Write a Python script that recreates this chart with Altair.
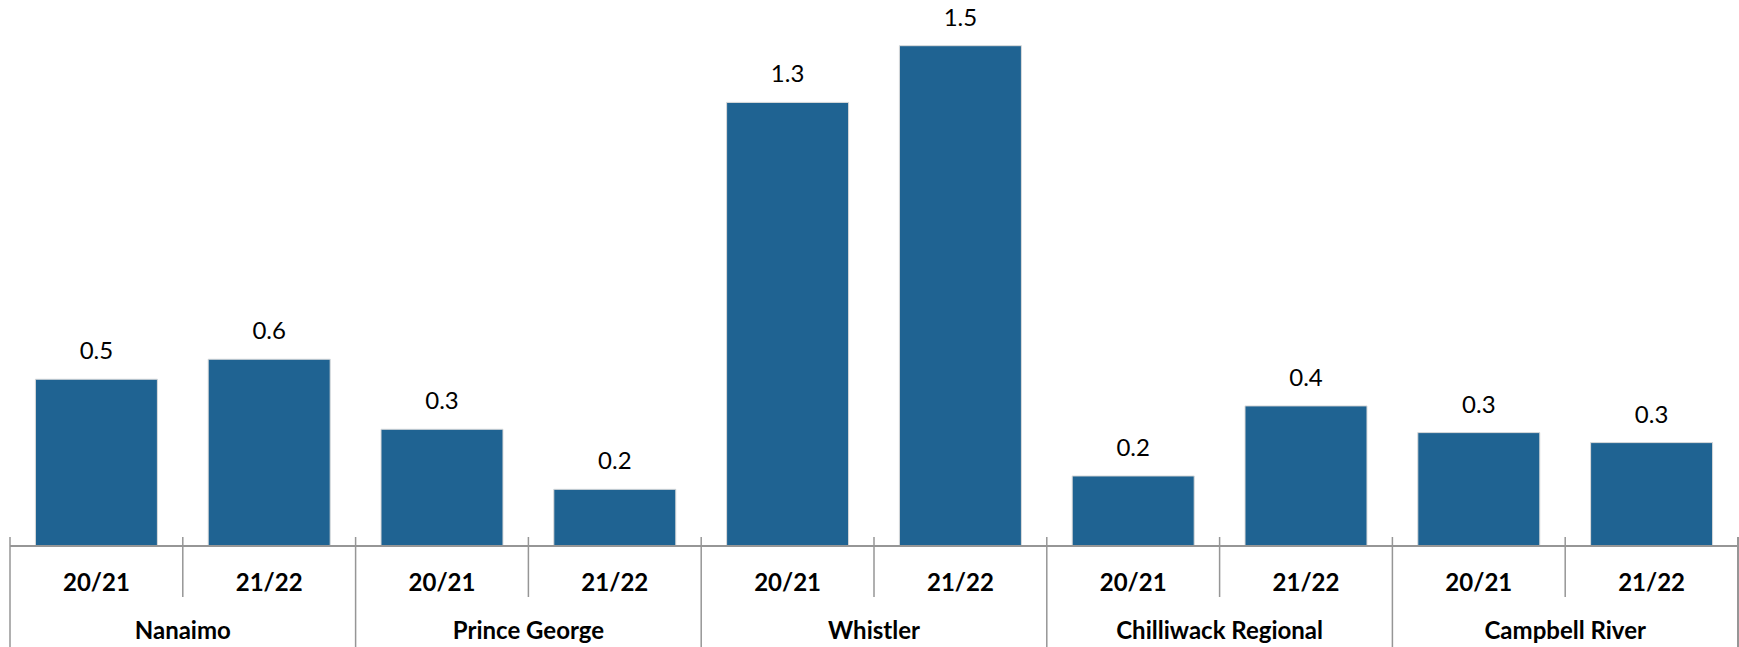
import altair as alt
import pandas as pd

groups = ["Nanaimo", "Prince George", "Whistler", "Chilliwack Regional", "Campbell River"]
years = ["20/21", "21/22"]
values = [0.50, 0.56, 0.35, 0.17, 1.33, 1.50, 0.21, 0.42, 0.34, 0.31]

rows = []
i = 0
for g in groups:
    for y in years:
        rows.append({"group": g, "year": y, "key": g + "|" + y, "value": values[i],
                     "first": y == years[0]})
        i += 1
df = pd.DataFrame(rows)
keys = list(df["key"])

W, H = 1728, 546
STEP = W / len(keys)
FONT = "Lato"
GRAY = "#969696"

xband = alt.X("key:N", sort=keys, axis=None,
              scale=alt.Scale(domain=keys, paddingInner=0.294, paddingOuter=0.147))
xstep = lambda bp=None: (alt.X("key:N", sort=keys, axis=None, bandPosition=bp,
                               scale=alt.Scale(domain=keys, paddingInner=0, paddingOuter=0))
                         if bp is not None else
                         alt.X("key:N", sort=keys, axis=None,
                               scale=alt.Scale(domain=keys, paddingInner=0, paddingOuter=0)))
yscale = alt.Scale(domain=[0, 1.637], nice=False)

base = alt.Chart(df)

bars = base.mark_bar(color="#1F6392", stroke="#DADADA", strokeWidth=1).encode(
    x=xband,
    y=alt.Y("value:Q", scale=yscale, axis=None),
)
labels = base.mark_text(font=FONT, fontSize=24, color="#000000", baseline="alphabetic", dy=-20).encode(
    x=xband,
    y=alt.Y("value:Q", scale=yscale, axis=None),
    text=alt.Text("value:Q", format=".1f"),
)
year_text = base.mark_text(font=FONT, fontSize=24, fontWeight="bold", color="#000000",
                           baseline="alphabetic").encode(
    x=xband, y=alt.value(591), text="year:N")

axis_line = base.mark_rule(color=GRAY, strokeWidth=1.5).encode(
    x=alt.value(0), x2=alt.value(W), y=alt.value(H))

inner_ticks = base.transform_filter("!datum.first").mark_rule(color=GRAY, strokeWidth=1.5).encode(
    x=xstep(0), y=alt.value(537), y2=alt.value(597))
group_ticks = base.transform_filter("datum.first").mark_rule(color=GRAY, strokeWidth=1.5).encode(
    x=xstep(0), y=alt.value(537), y2=alt.value(647))
end_tick = base.mark_rule(color=GRAY, strokeWidth=1.5).encode(
    x=alt.value(W), y=alt.value(537), y2=alt.value(647))
group_text = base.transform_filter("datum.first").mark_text(
    font=FONT, fontSize=24, fontWeight="bold", color="#000000", baseline="alphabetic",
    xOffset=STEP / 2).encode(
    x=xstep(), y=alt.value(639), text="group:N")

chart = alt.layer(bars, labels, year_text, axis_line, inner_ticks, group_ticks, end_tick, group_text).resolve_scale(
    x="independent"
).properties(
    width=W, height=H,
    autosize=alt.AutoSizeParams(type="none"),
    padding={"left": 10, "top": 0, "right": 1, "bottom": 101},
).configure_view(strokeWidth=0)

chart.save("out.html", embed_options={"renderer": "svg", "actions": False})
